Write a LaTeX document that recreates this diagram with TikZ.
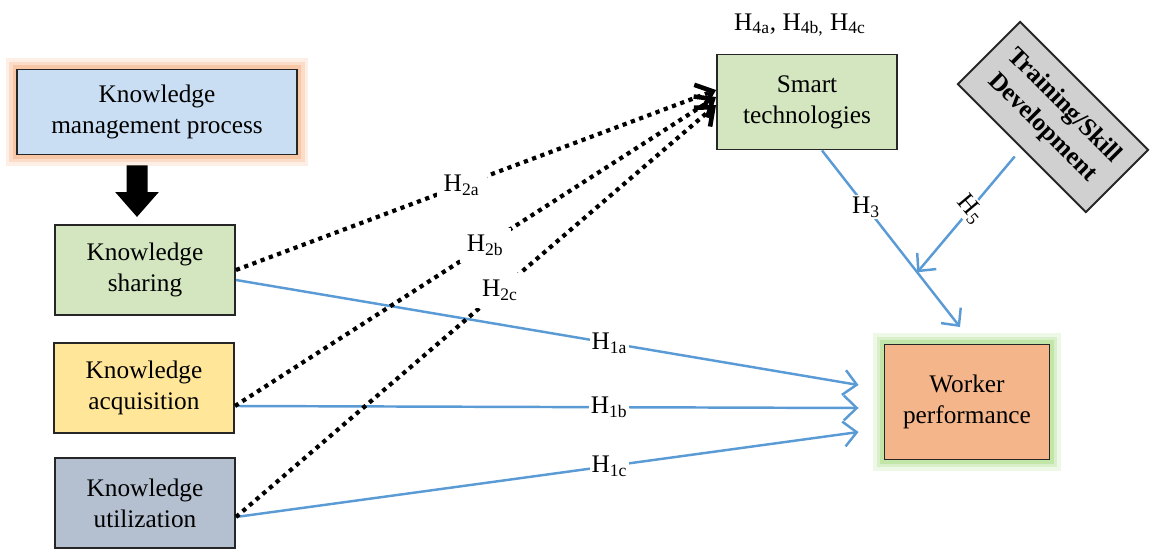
\documentclass[tikz,border=0pt]{standalone}
\usepackage{fontspec}
\setmainfont{Liberation Serif}
\usetikzlibrary{arrows.meta, positioning, calc}
\definecolor{kmblue}{HTML}{C9DEF3}
\definecolor{kmglow}{HTML}{F4B183}
\definecolor{shgreen}{HTML}{D3E6C0}
\definecolor{acqyellow}{HTML}{FFE699}
\definecolor{utilgrey}{HTML}{B4BFD0}
\definecolor{trgrey}{HTML}{D0D0D0}
\definecolor{wporange}{HTML}{F5B58A}
\definecolor{wpglow}{HTML}{A9DC85}
\definecolor{hblue}{HTML}{5B9BD5}

\begin{document}
\begin{tikzpicture}[
    every node/.style={font=\fontsize{14.4}{17.6}\selectfont},
    box/.style={draw=black!85, line width=1.1pt, align=center, minimum width=3.6cm,
                minimum height=1.8cm, inner sep=2pt},
    glow/.style={preaction={draw=#1, draw opacity=0.2, line width=13pt},
                 preaction={draw=#1, draw opacity=0.3, line width=9pt},
                 preaction={draw=#1, draw opacity=0.5, line width=5pt}},
    hyp/.style={fill=white, text=black, inner sep=1pt},
    solidarr/.style={hblue, line width=1.4pt, -{Straight Barb[length=2.6mm, width=5mm]}},
    dotarr/.style={line width=2.4pt, dash pattern=on 2.4pt off 2.6pt,
                   -{Straight Barb[length=3mm, width=5mm, line width=2.6pt]}},
    blockarr/.style={line width=4.2mm, -{Triangle[length=5mm, width=8.4mm]}}
]
    \useasboundingbox (0,0) rectangle (23,10.96);

    \node[box, fill=kmblue, glow=kmglow, minimum width=5.6cm, minimum height=1.7cm]
        (km) at (3.14,8.72) {Knowledge\\management process};
    \node[box, fill=shgreen]   (share) at (2.9, 5.56) {Knowledge\\sharing};
    \node[box, fill=acqyellow] (acq)   at (2.88,3.2)  {Knowledge\\acquisition};
    \node[box, fill=utilgrey]  (util)  at (2.9, 0.9)  {Knowledge\\utilization};
    \node[box, fill=shgreen, minimum height=1.9cm]
        (smart) at (16.14,8.92) {Smart\\technologies};
    \node[box, fill=trgrey, rotate=-45, minimum width=3.62cm, minimum height=1.76cm,
          font=\fontsize{14.4}{17.6}\selectfont\bfseries]
        (train) at (21.06,8.62) {Training/Skill\\Development};
    \node[box, fill=wporange, glow=wpglow, minimum width=3.3cm, minimum height=2.3cm]
        (worker) at (19.34,2.92) {Worker\\performance};
    \node (h4) at (16.0,10.46) {H\textsubscript{4a}, H\textsubscript{4b,} H\textsubscript{4c}};

    \draw[blockarr, shorten <=2mm, shorten >=1.4mm]
        ([xshift=-4mm]km.south) -- ([xshift=-1.6mm]share.north);

    \draw[solidarr] ([yshift=-2mm]share.east) -- node[hyp, pos=0.6] {H\textsubscript{1a}}
        ([xshift=-5mm, yshift=3.4mm]worker.west);
    \draw[solidarr] ([yshift=-3.6mm]acq.east) -- node[hyp, pos=0.6] {H\textsubscript{1b}}
        ([xshift=-5mm, yshift=-1.2mm]worker.west);
    \draw[solidarr] ([yshift=-2.8mm]util.east) -- node[hyp, pos=0.6] {H\textsubscript{1c}}
        ([xshift=-5mm, yshift=-6mm]worker.west);
    \draw[solidarr] ([xshift=3mm]smart.south) -- node[hyp, pos=0.32] {H\textsubscript{3}}
        coordinate[pos=0.69] (mod) ([xshift=-1.4mm, yshift=3.3mm]worker.north);
    \draw[solidarr, shorten <=2mm] (train.south) --
        node[hyp, pos=0.49, rotate=-50] {H\textsubscript{5}} (mod);

    \draw[dotarr] (share.east) -- node[hyp, pos=0.47, inner sep=4pt] {H\textsubscript{2a}}
        ([yshift=2.4mm]smart.west);
    \draw[dotarr] ([yshift=-3.6mm]acq.east) -- node[hyp, pos=0.52, inner sep=4pt] {H\textsubscript{2b}}
        ([yshift=1mm]smart.west);
    \draw[dotarr] ([yshift=-2.8mm]util.east) -- node[hyp, pos=0.55, inner sep=4pt] {H\textsubscript{2c}}
        ([yshift=-0.6mm]smart.west);
\end{tikzpicture}
\end{document}
